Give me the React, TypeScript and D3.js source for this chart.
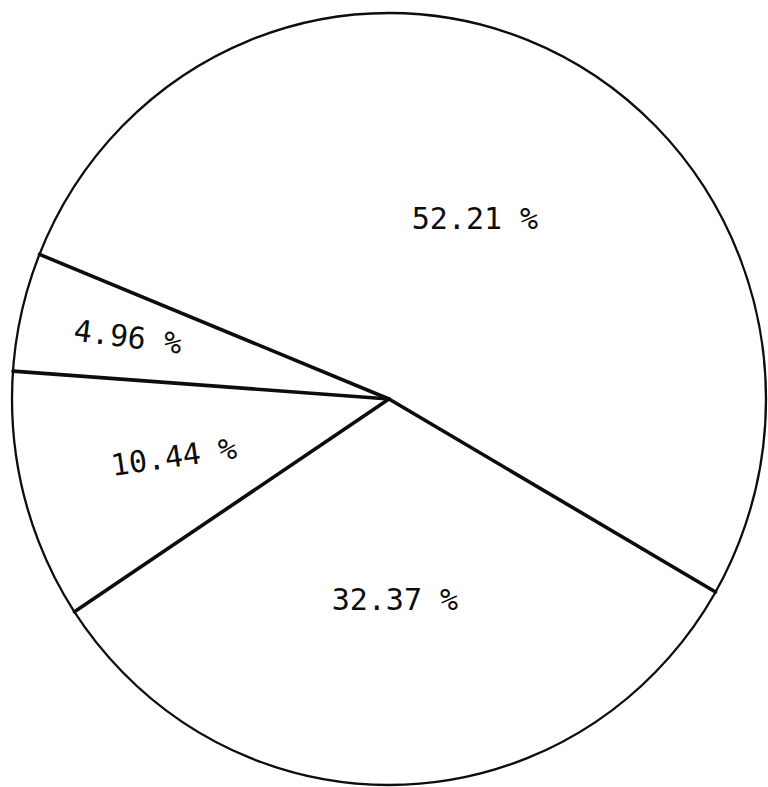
import React from 'react';
import * as d3 from 'd3';

// shares of the pie, clockwise from the upper-left spoke
const labels = ['52.21 %', '32.37 %', '10.44 %', '4.96 %'];
const shares = [52.21, 32.37, 10.44, 4.96];

const width = 768,
      height = 787;

const App = () => {
  const cx = 389,
        cy = 399,
        ry = 386,
        rx = 377;

  const pie = d3.pie<number>()
                .sort(null)
                .startAngle(-68 * Math.PI / 180)
                .endAngle(-68 * Math.PI / 180 + 2 * Math.PI);

  const slices = pie(shares);
  const total = d3.sum(shares);

  const arc = d3.arc<d3.PieArcDatum<number>>()
                .innerRadius(0)
                .outerRadius(ry);

  // small slices get their label pushed out toward the rim
  const labelPos = (d: d3.PieArcDatum<number>) => {
    const p = d.value / total;
    const f = Math.max(0.52, 0.82 - 2.2 * p);
    const a = (d.startAngle + d.endAngle) / 2;
    const [x, y] = d3.pointRadial(a, ry * f);
    let deg = ((a * 180 / Math.PI) % 360 + 360) % 360;
    const rot = deg > 200 && deg < 340 ? (deg - 270) * 0.55 : 0;
    return { x: cx + x * (rx / ry), y: cy + y, rot };
  };

  return (
    <svg width={width} height={height}
         style={{ position: 'absolute', left: 0, top: 0, background: 'white' }}>
      <g transform={`translate(${cx},${cy}) scale(${rx / ry},1)`}>
        {slices.map((d, i) =>
          <path key={'s' + i} d={arc(d) || ''} fill="white" stroke="none" />
        )}
        <circle r={ry} fill="none" stroke="#0d0d0d" strokeWidth={2.3}
                vectorEffect="non-scaling-stroke" />
        {slices.map((d, i) => {
          const [x, y] = d3.pointRadial(d.startAngle, ry);
          return <line key={'l' + i} x1={0} y1={0} x2={x} y2={y}
                       stroke="#0d0d0d" strokeWidth={3.6} strokeLinecap="round"
                       vectorEffect="non-scaling-stroke" />;
        })}
      </g>
      {slices.map((d, i) => {
        const { x, y, rot } = labelPos(d);
        return (
          <text key={'t' + i} x={x} y={y} textAnchor="middle" dy="0.35em"
                transform={`rotate(${rot},${x},${y})`}
                style={{ fontFamily: '"DejaVu Sans Mono", monospace', fontSize: 30, fill: '#0d0d0d' }}>
            {labels[i]}
          </text>
        );
      })}
    </svg>
  );
};

export default App;
